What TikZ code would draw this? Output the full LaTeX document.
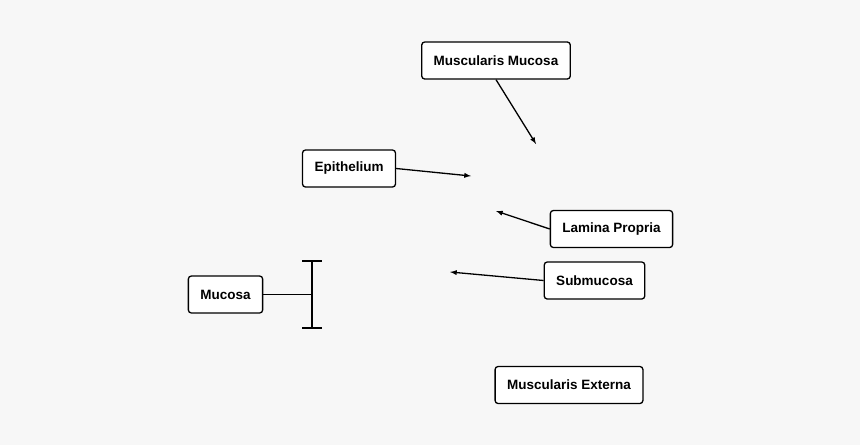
\documentclass[tikz,border=0pt]{standalone}
\usepackage{fontspec}
\setmainfont{Liberation Sans}
\begin{document}
\begin{tikzpicture}[x=1pt, y=-1pt, line width=1.3,
	label box/.style={draw, rounded corners=3pt, fill=white, minimum height=37, inner xsep=12,
		font=\fontsize{13.5}{16}\selectfont\bfseries},
	pointer/.style={-latex}]

	\fill[black!3] (0,0) rectangle (860,445);
	\useasboundingbox (0,0) rectangle (860,445);

	\node[label box] (mm) at (496,60.5) {Muscularis Mucosa};
	\node[label box] (epi) at (349,168.5) {Epithelium};
	\node[label box] (lp) at (611.5,229) {Lamina Propria};
	\node[label box] (sub) at (594.5,280.5) {Submucosa};
	\node[label box] (muc) at (225.5,294.5) {Mucosa};
	\node[label box] (me) at (569,385) {Muscularis Externa};

	% free ends of the pointers
	\coordinate (mmtip) at (536,144);
	\coordinate (epitip) at (471,176);
	\coordinate (lptip) at (496,211);
	\coordinate (subtip) at (450,272);
	\coordinate (brace) at (312,294.5);

	\draw[pointer] (mm.south) ++(0,0) -- (mmtip);
	\draw[pointer] (epi.east) -- (epitip);
	\draw[pointer] (lp.west) -- (lptip);
	\draw[pointer] (sub.west) -- (subtip);

	\draw (muc.east) -- (brace);
	\draw (312,261) -- (312,328);
	\draw (302,261) -- (322,261);
	\draw (302,328) -- (322,328);
\end{tikzpicture}
\end{document}
